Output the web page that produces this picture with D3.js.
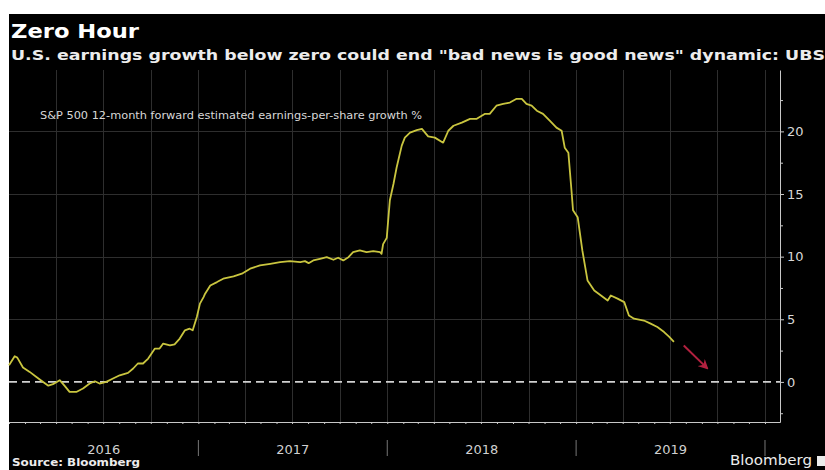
<!DOCTYPE html>
<html>
<head>
<meta charset="utf-8">
<script src="https://cdn.jsdelivr.net/npm/d3@7"></script>
<style>
  body { margin: 0; background: #fff; }
  svg { display: block; }
</style>
</head>
<body>
<div id="chart"></div>
<script>
// values
var dates = [
  "2016-01-01","2016-01-12","2016-01-17","2016-01-28","2016-02-10","2016-02-23","2016-03-07","2016-03-17",
  "2016-03-26","2016-04-08","2016-04-18","2016-04-27","2016-05-10","2016-05-23","2016-06-05","2016-06-15",
  "2016-06-24","2016-07-07","2016-07-20","2016-08-02","2016-08-18","2016-08-28","2016-09-06","2016-09-16",
  "2016-09-26","2016-10-09","2016-10-18","2016-10-25","2016-11-07","2016-11-16","2016-11-26","2016-12-06",
  "2016-12-15","2016-12-21","2016-12-29","2017-01-04","2017-01-11","2017-01-14","2017-01-24","2017-02-06",
  "2017-02-18","2017-03-10","2017-03-26","2017-04-11","2017-04-30","2017-05-20","2017-06-08","2017-06-27",
  "2017-07-17","2017-07-26","2017-08-02","2017-08-11","2017-08-24","2017-09-06","2017-09-19","2017-09-28",
  "2017-10-08","2017-10-18","2017-10-27","2017-11-09","2017-11-22","2017-12-05","2017-12-18","2017-12-21",
  "2017-12-24","2017-12-31","2018-01-06","2018-01-13","2018-01-19","2018-01-29","2018-02-04","2018-02-14",
  "2018-02-27","2018-03-09","2018-03-15","2018-03-21","2018-04-03","2018-04-19","2018-04-29","2018-05-09",
  "2018-05-25","2018-06-10","2018-06-23","2018-07-09","2018-07-18","2018-07-31","2018-08-13","2018-08-26",
  "2018-09-08","2018-09-18","2018-09-27","2018-10-07","2018-10-17","2018-10-29","2018-11-11","2018-11-24",
  "2018-12-04","2018-12-10","2018-12-17","2018-12-23","2018-12-26","2019-01-04","2019-01-13","2019-01-23",
  "2019-02-05","2019-02-18","2019-03-03","2019-03-09","2019-03-22","2019-04-04","2019-04-13","2019-04-23",
  "2019-05-12","2019-05-25","2019-06-07","2019-06-20","2019-06-30","2019-07-09"
];
var epsGrowth = [
  1.33,2.05,1.94,1.15,0.8,0.4,0.0,-0.3,
  -0.18,0.14,-0.34,-0.8,-0.8,-0.53,-0.13,0.05,
  -0.13,0.0,0.27,0.53,0.72,1.07,1.47,1.47,
  1.86,2.66,2.66,3.06,2.92,3.0,3.46,4.12,
  4.25,4.12,5.18,6.25,6.77,7.04,7.7,7.97,
  8.24,8.42,8.64,9.04,9.3,9.43,9.56,9.64,
  9.56,9.64,9.48,9.7,9.83,9.96,9.75,9.91,
  9.7,9.96,10.36,10.5,10.36,10.44,10.36,10.23,
  11.0,11.5,14.5,15.8,17.1,18.86,19.5,19.9,
  20.1,20.2,19.9,19.6,19.5,19.1,20.05,20.45,
  20.7,21.0,21.0,21.4,21.4,22.05,22.2,22.3,
  22.6,22.6,22.2,22.05,21.65,21.4,20.85,20.3,
  20.05,18.7,18.3,15.3,13.7,13.15,10.5,8.1,
  7.3,6.9,6.5,6.9,6.65,6.37,5.3,5.05,
  4.9,4.65,4.38,3.98,3.6,3.2
];
var arrowDates = ["2019-07-28","2019-09-11"];
var arrowValues = [2.9, 1.1];
var yTicks = [0, 5, 10, 15, 20];
var years = [2016, 2017, 2018, 2019];

var parse = d3.timeParse("%Y-%m-%d");
var data = dates.map((d,i)=>({date: parse(d), v: epsGrowth[i]}));
var arrowData = arrowDates.map((d,i)=>({date: parse(d), v: arrowValues[i]}));

var w = 825, h = 470;
var svg = d3.select("#chart").append("svg").attr("width", w).attr("height", h);

svg.append("rect").attr("x",0).attr("y",0).attr("width",w).attr("height",h).attr("fill","#fff");
svg.append("rect").attr("x",9).attr("y",14).attr("width",w-9).attr("height",h-14).attr("fill","#000");

var x = d3.scaleTime()
    .domain([new Date(2016,0,1), new Date(2020,0,30)])
    .range([9, 780]);
var y = d3.scaleLinear()
    .domain([-3.2, 24.9])
    .range([422, 70]);

// grid
var grid = svg.append("g").attr("stroke", "#2e2e2e").attr("stroke-width", 1);
grid.selectAll("line.v")
    .data(x.ticks(d3.timeMonth.every(3)).filter(d=>x(d) > 12))
    .enter().append("line")
    .attr("x1", d=>Math.round(x(d))+0.5).attr("x2", d=>Math.round(x(d))+0.5)
    .attr("y1", 70).attr("y2", 422);
grid.selectAll("line.h")
    .data(yTicks.filter(d=>d!==0))
    .enter().append("line")
    .attr("x1", 9).attr("x2", 780)
    .attr("y1", d=>Math.round(y(d))+0.5).attr("y2", d=>Math.round(y(d))+0.5);

// zero line
svg.append("line")
    .attr("x1", 9).attr("x2", 780)
    .attr("y1", y(0)).attr("y2", y(0))
    .attr("stroke", "#d0d0d0").attr("stroke-width", 1.6)
    .attr("stroke-dasharray", "8,5");

// right axis
var yAxis = svg.append("g")
    .attr("transform", "translate(780,0)")
    .call(d3.axisRight(y).tickValues(yTicks).tickSize(4).tickSizeOuter(0).tickPadding(3));
svg.append("g")
    .attr("transform", "translate(780,0)")
    .call(d3.axisRight(y).tickValues([-2.5,2.5,7.5,12.5,17.5,22.5]).tickSize(3).tickSizeOuter(0).tickFormat(""))
    .select(".domain").remove();

// bottom axis with monthly ticks
var xAxis = svg.append("g")
    .attr("transform", "translate(0,422)")
    .call(d3.axisBottom(x).ticks(d3.timeMonth.every(1)).tickSize(2).tickSizeOuter(0).tickFormat(""));

svg.selectAll(".domain, .tick line").attr("stroke", "#c8c8c8");
yAxis.selectAll("text")
    .attr("fill", "#d8d8d8")
    .style("font-family", "DejaVu Sans")
    .style("font-size", "13px");

// year separators and labels
svg.selectAll("line.sep")
    .data(years.map(d=>d+1))
    .enter().append("line")
    .attr("x1", d=>x(new Date(d,0,1))).attr("x2", d=>x(new Date(d,0,1)))
    .attr("y1", 440).attr("y2", 456)
    .attr("stroke", "#777").attr("stroke-width", 1);
svg.selectAll("text.year")
    .data(years)
    .enter().append("text")
    .attr("x", d=>(x(new Date(d,0,1)) + x(new Date(d+1,0,1)))/2)
    .attr("y", 454)
    .attr("text-anchor", "middle")
    .attr("fill", "#d0d0d0")
    .style("font-family", "DejaVu Sans")
    .style("font-size", "13px")
    .text(d=>d);

// series
var line = d3.line().x(d=>x(d.date)).y(d=>y(d.v));
svg.append("path")
    .datum(data)
    .attr("d", line)
    .attr("fill", "none")
    .attr("stroke", "#c9c53f")
    .attr("stroke-width", 1.8)
    .attr("stroke-linejoin", "round");

// red arrow
svg.append("defs").append("marker")
    .attr("id", "head")
    .attr("viewBox", "0 0 10 10")
    .attr("refX", 8).attr("refY", 5)
    .attr("markerWidth", 5).attr("markerHeight", 5)
    .attr("orient", "auto")
    .append("path")
    .attr("d", "M0,0 L10,5 L0,10 L3,5 Z")
    .attr("fill", "#b2213f");
svg.append("path")
    .datum(arrowData)
    .attr("d", line)
    .attr("stroke", "#b2213f")
    .attr("stroke-width", 2)
    .attr("marker-end", "url(#head)");

// texts
svg.append("text")
    .attr("x", 11).attr("y", 38)
    .attr("fill", "#fff")
    .style("font-family", "DejaVu Sans").style("font-weight", "bold").style("font-size", "20px")
    .attr("textLength", 128).attr("lengthAdjust", "spacingAndGlyphs")
    .text("Zero Hour");
svg.append("text")
    .attr("x", 11).attr("y", 60)
    .attr("fill", "#ececec")
    .style("font-family", "DejaVu Sans").style("font-weight", "bold").style("font-size", "14.5px")
    .attr("textLength", 814).attr("lengthAdjust", "spacingAndGlyphs")
    .text("U.S. earnings growth below zero could end \"bad news is good news\" dynamic: UBS");
svg.append("text")
    .attr("x", 40).attr("y", 119)
    .attr("fill", "#d8d8d8")
    .style("font-family", "DejaVu Sans Condensed, DejaVu Sans").style("font-size", "11px")
    .attr("textLength", 382).attr("lengthAdjust", "spacingAndGlyphs")
    .text("S&P 500 12-month forward estimated earnings-per-share growth %");
svg.append("text")
    .attr("x", 12).attr("y", 466)
    .attr("fill", "#ececec")
    .style("font-family", "DejaVu Sans").style("font-weight", "bold").style("font-size", "11px")
    .attr("textLength", 128).attr("lengthAdjust", "spacingAndGlyphs")
    .text("Source: Bloomberg");
svg.append("text")
    .attr("x", 730).attr("y", 465)
    .attr("fill", "#ececec")
    .style("font-family", "DejaVu Sans").style("font-size", "14px")
    .attr("textLength", 82).attr("lengthAdjust", "spacingAndGlyphs")
    .text("Bloomberg");
svg.append("rect")
    .attr("x", 817).attr("y", 456).attr("width", 8).attr("height", 10)
    .attr("fill", "#ececec");
</script>
</body>
</html>
